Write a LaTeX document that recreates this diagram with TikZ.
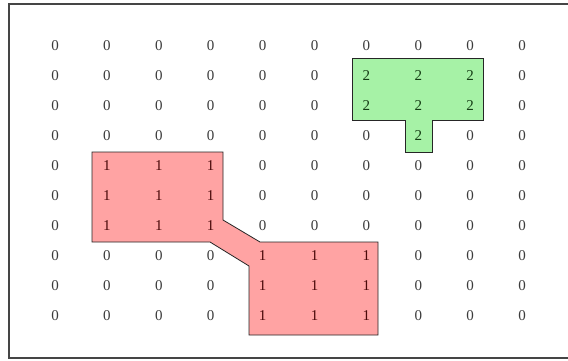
\documentclass[tikz,border=0pt]{standalone}
\usepackage{fontspec}
\setmainfont{Liberation Serif}
\definecolor{zerocol}{HTML}{3C3C3C}
\definecolor{onecol}{HTML}{4A0A0A}
\definecolor{twocol}{HTML}{143C14}
\definecolor{redfill}{HTML}{FFA3A3}
\definecolor{greenfill}{HTML}{A6F2A6}
\definecolor{framecol}{HTML}{454545}
\begin{document}
\begin{tikzpicture}[x=1pt,y=-1pt,
  cellbase/.style={inner sep=0pt,font=\fontsize{15}{18}\selectfont},
  v0/.style={cellbase,text=zerocol},
  v1/.style={cellbase,text=onecol},
  v2/.style={cellbase,text=twocol},
  region/.style={draw=black!85,line width=0.8pt,line join=miter}]
\useasboundingbox (0,0) rectangle (568,360);
\fill[white] (0,0) rectangle (568,360);
\draw[framecol,line width=1.4pt] (9,4) rectangle (570,358);
% regions
\draw[region,fill=redfill] (92,152) -- (223,152) -- (223,220) -- (260,242) -- (378,242)
  -- (378,335) -- (249,335) -- (249,266) -- (210,242) -- (92,242) -- cycle;
\draw[region,fill=greenfill] (352,58) -- (483,58) -- (483,120) -- (432,120) -- (432,152)
  -- (405,152) -- (405,120) -- (352,120) -- cycle;
% grid of values
\newcommand{\gridrow}[2]{%
  \foreach \c/\v in {#2}{%
    \node[v\v] (n#1\c) at ({55+51.9*\c},{46+30*#1}) {\v};}}
\gridrow{0}{0/0,1/0,2/0,3/0,4/0,5/0,6/0,7/0,8/0,9/0}
\gridrow{1}{0/0,1/0,2/0,3/0,4/0,5/0,6/2,7/2,8/2,9/0}
\gridrow{2}{0/0,1/0,2/0,3/0,4/0,5/0,6/2,7/2,8/2,9/0}
\gridrow{3}{0/0,1/0,2/0,3/0,4/0,5/0,6/0,7/2,8/0,9/0}
\gridrow{4}{0/0,1/1,2/1,3/1,4/0,5/0,6/0,7/0,8/0,9/0}
\gridrow{5}{0/0,1/1,2/1,3/1,4/0,5/0,6/0,7/0,8/0,9/0}
\gridrow{6}{0/0,1/1,2/1,3/1,4/0,5/0,6/0,7/0,8/0,9/0}
\gridrow{7}{0/0,1/0,2/0,3/0,4/1,5/1,6/1,7/0,8/0,9/0}
\gridrow{8}{0/0,1/0,2/0,3/0,4/1,5/1,6/1,7/0,8/0,9/0}
\gridrow{9}{0/0,1/0,2/0,3/0,4/1,5/1,6/1,7/0,8/0,9/0}
\end{tikzpicture}
\end{document}
